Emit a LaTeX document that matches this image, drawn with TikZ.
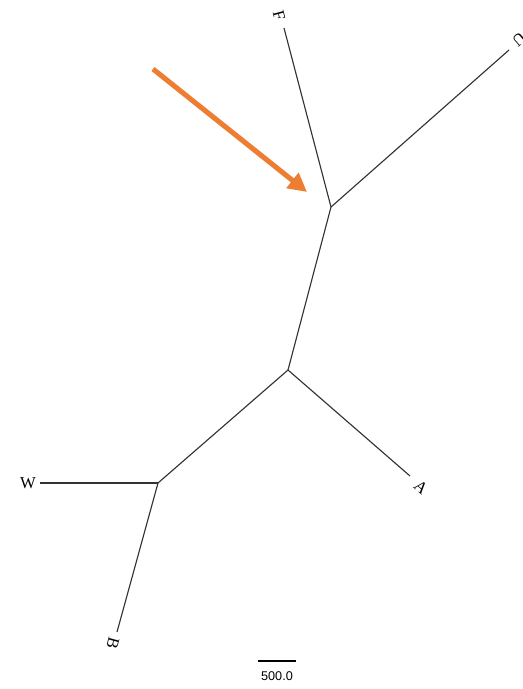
\documentclass[tikz,border=0pt]{standalone}
\usepackage{fontspec}
\setmainfont{Liberation Serif}
\newfontfamily\barfont{Liberation Sans}
\usetikzlibrary{arrows.meta}
\definecolor{arroworange}{RGB}{237,125,49}
\begin{document}
\begin{tikzpicture}[x=0.75pt,y=-0.75pt,
  branch/.style={draw=black!80,line width=0.85pt},
  leaflabel/.style={inner sep=0pt,font=\fontsize{12.5}{14}\selectfont},
  pointer/.style={draw=arroworange,line width=3.8pt,-{Triangle[length=14pt,width=14pt]}}]
\useasboundingbox (0,0) rectangle (523,689);
% internal nodes
\coordinate (n1) at (331,207);
\coordinate (n2) at (288,370);
\coordinate (n3) at (158,483);
% leaf ends
\coordinate (lF) at (284,28);
\coordinate (lU) at (509,50);
\coordinate (lA) at (410,476);
\coordinate (lW) at (40,483);
\coordinate (lB) at (117,632);
% labels
\node[leaflabel,rotate=-75] (F) at (279,16) {F};
\node[leaflabel,rotate=-139] (U) at (519,40) {U};
\node[leaflabel,rotate=-41] (A) at (421,487) {A};
\node[leaflabel] (W) at (28,483) {W};
\node[leaflabel,rotate=-105] (B) at (113,643) {B};
% branches
\draw[branch] (n1) -- (lF);
\draw[branch] (n1) -- (lU);
\draw[branch] (n1) -- (n2);
\draw[branch] (n2) -- (lA);
\draw[branch] (n2) -- (n3);
\draw[branch] (n3) -- (lW);
\draw[branch] (n3) -- (lB);
% scale bar
\coordinate (s1) at (258,661);
\coordinate (s2) at (296,661);
\draw[line width=1.2pt] (s1) -- (s2);
\node[inner sep=0pt,font=\barfont\fontsize{9.5}{11}\selectfont] (scale) at (277,676) {500.0};
% orange arrow
\coordinate (a1) at (153,69);
\coordinate (a2) at (307,192);
\draw[pointer] (a1) -- (a2);
\end{tikzpicture}
\end{document}
